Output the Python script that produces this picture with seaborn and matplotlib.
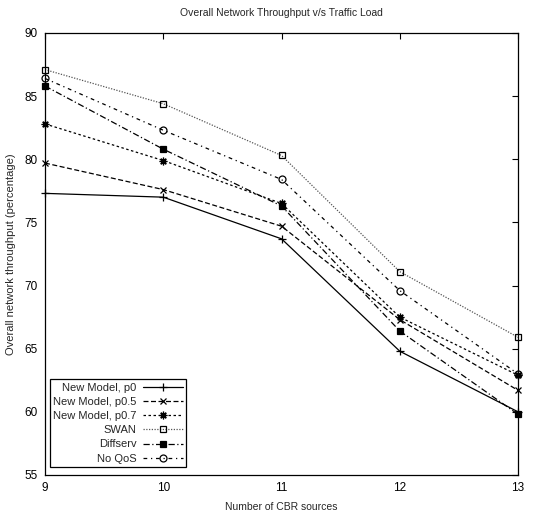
import matplotlib
matplotlib.use("Agg")
import matplotlib.pyplot as plt
import seaborn as sns
import pandas as pd

sources = [9, 10, 11, 12, 13]
new_p0 = [77.3, 77.0, 73.7, 64.8, 60.0]
new_p05 = [79.7, 77.6, 74.7, 67.3, 61.7]
new_p07 = [82.8, 79.9, 76.5, 67.5, 62.9]
swan = [87.1, 84.4, 80.3, 71.1, 65.9]
diffserv = [85.8, 80.8, 76.3, 66.4, 59.8]
noqos = [86.4, 82.3, 78.4, 69.6, 63.0]

series_names = ["New Model, p0", "New Model, p0.5", "New Model, p0.7",
                "SWAN", "Diffserv", "No QoS"]
series_vals = [new_p0, new_p05, new_p07, swan, diffserv, noqos]

rows = []
for name, vals in zip(series_names, series_vals):
    for x, v in zip(sources, vals):
        rows.append({"sources": x, "throughput": v, "series": name})
df = pd.DataFrame(rows)

sns.set_theme(style="white")
plt.rcParams["font.family"] = ["Liberation Sans", "DejaVu Sans"]

styles = {
    "New Model, p0": dict(marker="+", dashes=None, color="black", ms=5.5, mfc="black"),
    "New Model, p0.5": dict(marker="x", dashes=(4, 2), color="black", ms=4.5, mfc="black"),
    "New Model, p0.7": dict(marker=(8, 2, 0), dashes=(2, 2), color="black", ms=5.5, mfc="black"),
    "SWAN": dict(marker="s", dashes=(1, 1.2), color="#555555", ms=5, mfc="none"),
    "Diffserv": dict(marker="s", dashes=(5, 2, 1, 2), color="black", ms=5, mfc="black"),
    "No QoS": dict(marker="o", dashes=(3, 3, 1, 3), color="black", ms=5, mfc="none"),
}

fig = plt.figure(figsize=(5.33, 5.21), dpi=100)
ax = fig.add_axes([0.0844, 0.0883, 0.8876, 0.8484])

for name in series_names:
    st = styles[name]
    sub = df[df["series"] == name]
    kw = dict(marker=st["marker"], color=st["color"], markersize=st["ms"],
              markerfacecolor=st["mfc"], markeredgecolor="black",
              markeredgewidth=0.9, linewidth=0.9, label=name, clip_on=False)
    line = sns.lineplot(data=sub, x="sources", y="throughput", ax=ax,
                        legend=False, **kw).lines[-1]
    if st["dashes"] is not None:
        line.set_dashes(st["dashes"])

ax.set_xlim(9, 13)
ax.set_ylim(55, 90)
ax.set_xticks(sources)
ax.set_yticks(range(55, 91, 5))
ax.tick_params(direction="in", top=True, right=True, length=4, width=0.8,
               labelsize=8.5, colors="black", pad=5)
for sp in ax.spines.values():
    sp.set_color("black")
    sp.set_linewidth(0.9)

ax.set_title("Overall Network Throughput v/s Traffic Load", fontsize=7.5, pad=12)
ax.set_xlabel("Number of CBR sources", fontsize=7.5, labelpad=6)
ax.set_ylabel("Overall network throughput (percentage)", fontsize=8, labelpad=6)

handles = ax.get_lines()
leg = ax.legend(handles=list(handles), labels=series_names, loc="lower left",
                bbox_to_anchor=(0.01, 0.018), borderaxespad=0, markerfirst=False,
                fontsize=8, fancybox=False, edgecolor="black", framealpha=1,
                handlelength=3.6, handletextpad=0.6, labelspacing=0.38,
                borderpad=0.3)
leg.get_frame().set_linewidth(0.9)

fig.savefig("out.png", dpi=100)
